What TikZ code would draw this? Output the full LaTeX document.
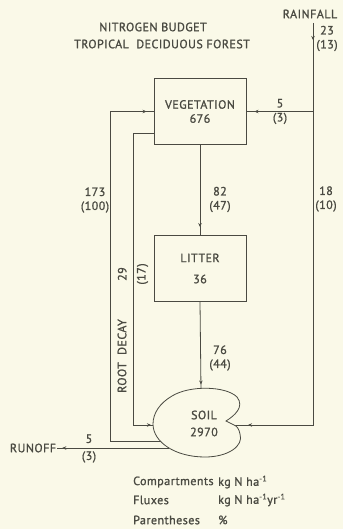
\documentclass[tikz,border=0pt]{standalone}
\usepackage{fontspec}
\setmainfont{PT Sans}
\newfontfamily\platefont[LetterSpace=4, FakeBold=1.2]{PT Sans}
\usetikzlibrary{arrows.meta, decorations.markings}
\definecolor{paper}{HTML}{FAF9E8}
\definecolor{ink}{HTML}{4A4A42}
\tikzset{
	compnode/.style={
			shape=rectangle,
			draw=ink,
			line width=0.9pt,
			minimum width=92pt,
			minimum height=66pt,
			inner sep=0pt
		},
	flowline/.style={
			draw=ink,
			line width=0.8pt
		},
	tipat/.style={
			postaction={decorate, decoration={markings,
						mark=at position #1 with {\arrow{Stealth[length=4pt,width=3.5pt]}}}}
		}
}
\tikzset{
	titletext/.style={font=\platefont\fontsize{12}{17}\selectfont, text=ink, inner sep=0pt},
	boxtext/.style={font=\platefont\fontsize{12}{14}\selectfont, text=ink, align=center, inner sep=0pt},
	labeltext/.style={font=\platefont\fontsize{12}{14}\selectfont, text=ink, align=center, inner sep=0pt},
	legendtext/.style={font=\platefont\fontsize{12}{14}\selectfont, text=ink, anchor=west, inner sep=0pt}
}

\begin{document}
\begin{tikzpicture}[x=1pt, y=-1pt]
			\fill[paper] (0,0) rectangle (343,529);
			\useasboundingbox (0,0) rectangle (343,529);

			\node[titletext] (title1) at (153,27) {NITROGEN BUDGET};
			\node[titletext] (title2) at (162,44) {TROPICAL\ \ DECIDUOUS FOREST};

			\node[compnode] (veg) at (200,111.5) {};
			\node[compnode] (litter) at (200,268.5) {};

			\node[boxtext] (vegtext) at (veg) {VEGETATION\\676};
			\node[boxtext] (littertext) at (litter) {LITTER\\[7pt]36};

			\node[boxtext] (rainfall) at (310,14) {RAINFALL};
			\node[boxtext, inner sep=1pt] (runoff) at (33,448) {RUNOFF};

			\coordinate (rain) at (313,23);
			\coordinate (rainsplit) at (313,111.5);
			\coordinate (rainbend) at (313,425);
			\coordinate (soilE) at (234,425);
			\coordinate (soilT) at (201,389.5);
			\coordinate (soilW) at (153,425);
			\coordinate (soilU) at (160.5,441);
			\coordinate (soilR) at (169,448);
			\coordinate (upbend) at (110,441);
			\coordinate (rdtop) at (154,133);
			\coordinate (rdbot) at (133,425);

			\draw[flowline, tipat=17pt, tipat=-14pt] (rain) -- (rainbend) -- (soilE);
			\draw[flowline, tipat=-8pt] (rainsplit) -- (veg.east);
			\draw[flowline, tipat=-8pt] (veg.south) -- (litter.north);
			\draw[flowline, tipat=-5pt] (litter.south) -- (soilT);
			\draw[flowline, tipat=-7pt] (soilU) -- (upbend) |- (veg.west);
			\draw[flowline, tipat=-2pt] (rdtop) -| (rdbot) -- (soilW);
			\draw[flowline, tipat=-5pt] (soilR) -- (runoff.east);

			\draw[flowline, fill=paper] (226,421)
				.. controls (234,416) and (245,407) .. (237,397)
				.. controls (226,386) and (190,385) .. (172,396)
				.. controls (160,403) and (153,413) .. (153,424)
				.. controls (153,442) and (175,457) .. (205,457)
				.. controls (228,457) and (244,446) .. (240,434)
				.. controls (239,429) and (237,426) .. (234,425)
				-- cycle;
			\node[boxtext] (soiltext) at (204,423.5) {SOIL\\[3pt]2970};

			\node[labeltext] (lblrain) at (327,38.5) {23\\(13)};
			\node[labeltext] (lblrainveg) at (280,111.5) {5\\(3)};
			\node[labeltext] (lbluptake) at (95,200) {173\\(100)};
			\node[labeltext] (lblveglit) at (220,199.5) {82\\(47)};
			\node[labeltext] (lblrainsoil) at (326,199) {18\\(10)};
			\node[labeltext] (lbllitsoil) at (220,358) {76\\(44)};
			\node[labeltext] (lblrunoff) at (89,448.5) {5\\[3pt](3)};
			\node[labeltext, rotate=90] (lblroot) at (133,274) {29\\[5pt](17)};
			\node[labeltext, rotate=90] (lblrootdecay) at (122,356) {ROOT\ \ DECAY};

			\node[legendtext] (legcomp) at (133,482) {Compartments};
			\node[legendtext] (legcompunit) at (218,482) {kg N ha\textsuperscript{-1}};
			\node[legendtext] (legflux) at (133,500) {Fluxes};
			\node[legendtext] (legfluxunit) at (218,500) {kg N ha\textsuperscript{-1}yr\textsuperscript{-1}};
			\node[legendtext] (legpar) at (133,520) {Parentheses};
			\node[legendtext] (legparunit) at (218,520) {\%};

		\end{tikzpicture}
\end{document}
